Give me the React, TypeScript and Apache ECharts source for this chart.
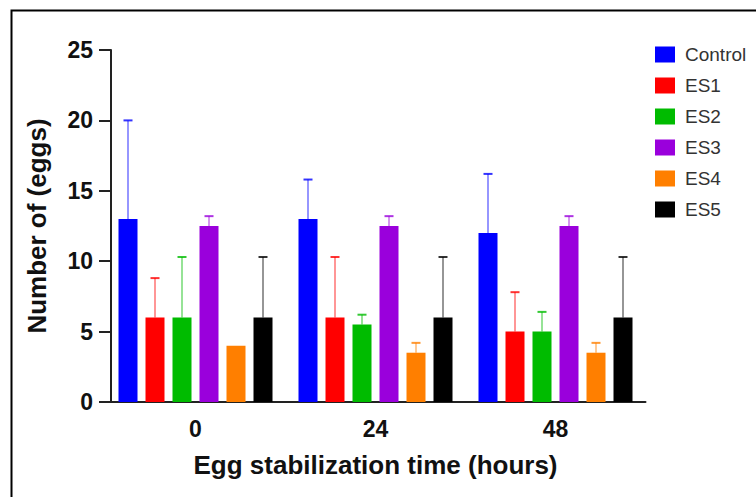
import React, { useEffect, useRef } from "react";
import * as echarts from "echarts";

const categories = ["0", "24", "48"];
const seriesNames = ["Control", "ES1", "ES2", "ES3", "ES4", "ES5"];
const colors = ["#0000ff", "#ff0000", "#00bb00", "#9a00dc", "#ff7f00", "#000000"];

const controlMean = [13, 13, 12];
const es1Mean = [6, 6, 5];
const es2Mean = [6, 5.5, 5];
const es3Mean = [12.5, 12.5, 12.5];
const es4Mean = [4, 3.5, 3.5];
const es5Mean = [6, 6, 6];

const controlHigh = [20, 15.8, 16.2];
const es1High = [8.8, 10.3, 7.8];
const es2High = [10.3, 6.2, 6.4];
const es3High = [13.2, 13.2, 13.2];
const es4High = [4, 4.2, 4.2];
const es5High = [10.3, 10.3, 10.3];

const yTicks = [0, 5, 10, 15, 20, 25];

const means = [controlMean, es1Mean, es2Mean, es3Mean, es4Mean, es5Mean];
const highs = [controlHigh, es1High, es2High, es3High, es4High, es5High];

const FONT = "'Liberation Sans', Arial, Helvetica, sans-serif";
const BAR_W = 19;
const BAR_SPACE = 8;

export default function App() {
  const ref = useRef<HTMLDivElement>(null);
  useEffect(() => {
    if (!ref.current) return;
    const chart = echarts.init(ref.current, null, { renderer: "svg" });
    const n = seriesNames.length;
    const pitch = BAR_W + BAR_SPACE;

    const barSeries = seriesNames.map((name, i) => ({
      name,
      type: "bar",
      data: means[i],
      barWidth: BAR_W,
      barGap: `${(BAR_SPACE / BAR_W) * 100}%`,
      itemStyle: { color: colors[i] },
      z: 2,
    }));

    const errSeries = seriesNames.map((name, i) => ({
      name: name + " SD",
      type: "custom",
      z: 3,
      data: categories.map((_, c) => [c, means[i][c], highs[i][c]]),
      encode: { x: 0, y: [1, 2] },
      renderItem: (params: any, api: any) => {
        const c = api.value(0);
        const m = api.value(1);
        const h = api.value(2);
        if (!(h > m)) return null;
        const base = api.coord([c, m]);
        const top = api.coord([c, h]);
        const x = base[0] + (i - (n - 1) / 2) * pitch;
        return {
          type: "group",
          children: [
            {
              type: "line",
              shape: { x1: x, y1: base[1], x2: x, y2: top[1] },
              style: { stroke: colors[i], opacity: 0.55, lineWidth: 1.5 },
            },
            {
              type: "line",
              shape: { x1: x - 4.5, y1: top[1], x2: x + 4.5, y2: top[1] },
              style: { stroke: colors[i], opacity: 0.8, lineWidth: 2 },
            },
          ],
        };
      },
    }));

    chart.setOption({
      animation: false,
      backgroundColor: "#ffffff",
      textStyle: { fontFamily: FONT },
      graphic: [
        {
          type: "rect",
          left: 9,
          top: 8,
          shape: { width: 800, height: 600 },
          style: { fill: "none", stroke: "#000", lineWidth: 2 },
          z: -1,
        },
      ],
      legend: {
        data: seriesNames,
        orient: "vertical",
        left: 650,
        top: 40,
        itemWidth: 20,
        itemHeight: 16,
        itemGap: 12,
        icon: "rect",
        textStyle: { fontFamily: FONT, fontSize: 19, color: "#333", padding: [0, 0, 0, 5] },
      },
      grid: { left: 105.5, top: 50, width: 540, bottom: 95 },
      xAxis: {
        type: "category",
        data: categories,
        name: "Egg stabilization time (hours)",
        nameLocation: "middle",
        nameGap: 50,
        nameTextStyle: { fontFamily: FONT, fontSize: 26, fontWeight: "bold", color: "#111" },
        axisLine: { lineStyle: { color: "#222", width: 2 } },
        axisTick: { alignWithLabel: true, length: 9, lineStyle: { color: "#222", width: 2 } },
        axisLabel: { fontFamily: FONT, fontSize: 23, fontWeight: "bold", color: "#111", margin: 15 },
      },
      yAxis: {
        type: "value",
        min: yTicks[0],
        max: yTicks[yTicks.length - 1],
        interval: yTicks[1] - yTicks[0],
        offset: -5.5,
        name: "Number of (eggs)",
        nameLocation: "middle",
        nameGap: 61,
        nameTextStyle: { fontFamily: FONT, fontSize: 26, fontWeight: "bold", color: "#111" },
        splitLine: { show: false },
        axisLine: { show: true, lineStyle: { color: "#222", width: 2 } },
        axisTick: { show: true, length: 12, lineStyle: { color: "#222", width: 2 } },
        axisLabel: { fontFamily: FONT, fontSize: 23, fontWeight: "bold", color: "#111", margin: 18 },
      },
      series: [...barSeries, ...errSeries],
    });
    return () => chart.dispose();
  }, []);
  return (
    <div
      ref={ref}
      style={{ position: "fixed", left: 0, top: 0, width: 756, height: 497 }}
    />
  );
}
